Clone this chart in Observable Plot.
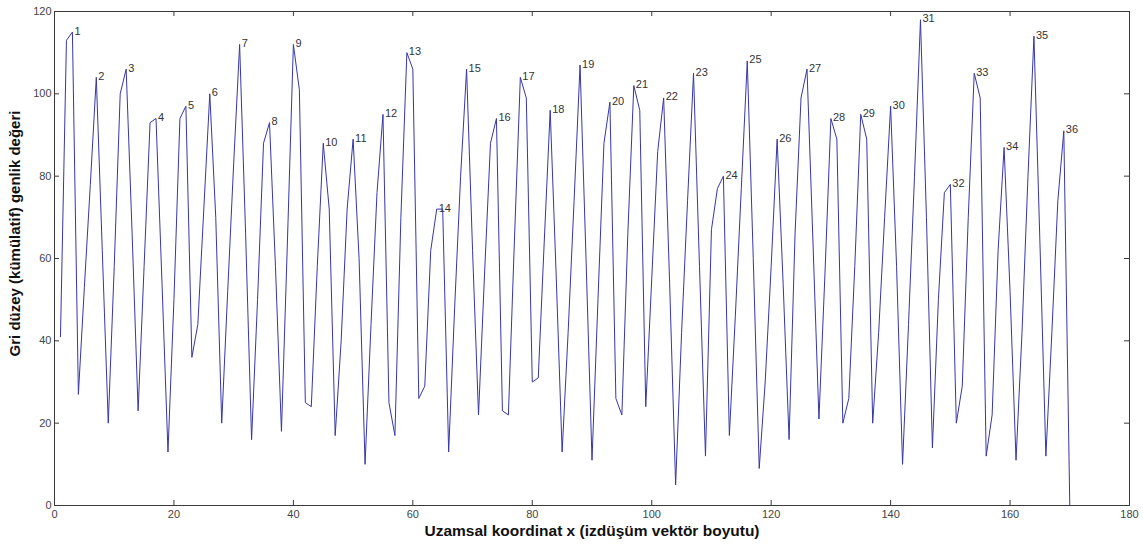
<!DOCTYPE html>
<html>
<head>
<meta charset="utf-8">
<script src="https://cdn.jsdelivr.net/npm/d3@7"></script>
<script src="https://cdn.jsdelivr.net/npm/@observablehq/plot@0.6"></script>
<style>
  html, body { margin: 0; padding: 0; background: #fff; }
  #chart svg { display: block; }
</style>
</head>
<body>
<div id="chart"></div>
<script>
// Projection vector: gray level (cumulative) amplitude for x = 1..170
const yValues = [
  41, 113, 115, 27, 53, 78, 104, 62, 20, 58,
  100, 106, 66, 23, 58, 93, 94, 54, 13, 50,
  94, 97, 36, 44, 72, 100, 70, 20, 52, 83,
  112, 66, 16, 50, 88, 93, 58, 18, 64, 112,
  101, 25, 24, 58, 88, 72, 17, 40, 72, 89,
  60, 10, 44, 76, 95, 25, 17, 70, 110, 106,
  26, 29, 62, 72, 72, 13, 48, 80, 106, 62,
  22, 56, 88, 94, 23, 22, 64, 104, 99, 30,
  31, 64, 96, 56, 13, 42, 74, 107, 60, 11,
  50, 88, 98, 26, 22, 66, 102, 96, 24, 55,
  86, 99, 54, 5, 42, 74, 105, 58, 12, 67,
  77, 80, 17, 46, 77, 108, 60, 9, 30, 58,
  89, 54, 16, 66, 99, 106, 64, 21, 56, 94,
  89, 20, 26, 58, 95, 89, 20, 42, 70, 97,
  58, 10, 44, 80, 118, 70, 14, 50, 76, 78,
  20, 29, 70, 105, 99, 12, 22, 62, 87, 52,
  11, 42, 80, 114, 64, 12, 42, 74, 91, 0
];
const xValues = yValues.map((_, i) => i + 1);

// x positions of the numbered peaks (labels 1..36)
const peakX = [3, 7, 12, 17, 22, 26, 31, 36, 40, 45, 50, 55, 59, 64, 69, 74, 78, 83,
               88, 93, 97, 102, 107, 112, 116, 121, 126, 130, 135, 140, 145, 150, 154, 159, 164, 169];
const peakLabels = peakX.map((_, i) => String(i + 1));

const xTicks = [0, 20, 40, 60, 80, 100, 120, 140, 160, 180];
const yTicks = [0, 20, 40, 60, 80, 100, 120];
const xTitle = "Uzamsal koordinat x (izdüşüm vektör boyutu)";
const yTitle = "Gri düzey (kümülatif) genlik değeri";

const series = xValues.map((x, i) => ({x, y: yValues[i]}));
const peaks = peakX.map((x, i) => ({x, y: yValues[x - 1], label: peakLabels[i]}));

const W = 1143, H = 545;
const mT = 11, mB = 40, mL = 54, mR = 14;
const innerH = H - mT - mB, innerW = W - mL - mR;
const tickLen = 5;
const axisColor = "#3a3a3a";

const chart = Plot.plot({
  width: W,
  height: H,
  marginTop: mT,
  marginBottom: mB,
  marginLeft: mL,
  marginRight: mR,
  style: {fontFamily: "'Liberation Sans', Arial, sans-serif", background: "#fff"},
  x: {domain: [0, 180]},
  y: {domain: [0, 120]},
  marks: [
    Plot.axisX(xTicks, {anchor: "bottom", tickSize: 0, tickPadding: 5, fontSize: 11, color: "#444", label: null}),
    Plot.axisY(yTicks, {anchor: "left", tickSize: 0, tickPadding: 3, fontSize: 11, color: "#444", label: null}),
    // inward ticks on all four sides
    Plot.tickX(xTicks, {x: d => d, insetTop: innerH - tickLen, stroke: axisColor}),
    Plot.tickX(xTicks, {x: d => d, insetBottom: innerH - tickLen, stroke: axisColor}),
    Plot.tickY(yTicks, {y: d => d, insetRight: innerW - tickLen, stroke: axisColor}),
    Plot.tickY(yTicks, {y: d => d, insetLeft: innerW - tickLen, stroke: axisColor}),
    Plot.line(series, {x: "x", y: "y", stroke: "#3636a8", strokeWidth: 1}),
    Plot.text(peaks, {x: "x", y: "y", text: "label", textAnchor: "start", dx: 2, dy: -1, fontSize: 11, fill: "#333"}),
    Plot.frame({stroke: axisColor}),
    Plot.text([xTitle], {frameAnchor: "bottom", dy: 30, text: d => d, fontSize: 15.5, fontWeight: "bold", fill: "#111"}),
    Plot.text([yTitle], {frameAnchor: "left", textAnchor: "middle", lineAnchor: "middle", dx: -39, dy: -25, rotate: -90, text: d => d, fontSize: 15, fontWeight: "bold", fill: "#111"})
  ]
});
document.getElementById("chart").appendChild(chart);
</script>
</body>
</html>
